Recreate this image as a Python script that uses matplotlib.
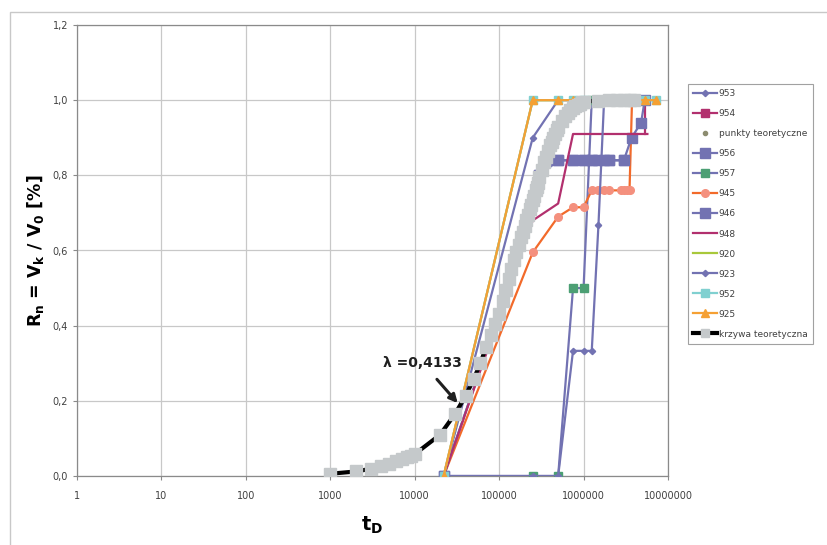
import numpy as np
import matplotlib
matplotlib.use('Agg')
import matplotlib.pyplot as plt
from matplotlib.patches import Rectangle

plt.rcParams['font.family'] = ['DejaVu Sans']

# ---- data ----
t_953 = [22000, 250000, 500000, 750000, 1000000]
r_953 = [0.0, 0.90, 1.0, 1.0, 1.0]

t_954 = [5300000, 5300000]
r_954 = [0.91, 1.0]

t_956 = [22000, 100000, 300000, 500000, 750000, 1000000, 1250000, 1750000, 2000000, 3000000]
r_956 = [0.0, 0.43, 0.80, 0.84, 0.84, 0.84, 0.84, 0.84, 0.84, 0.84]

t_957 = [22000, 250000, 500000, 750000, 1000000, 1250000, 1500000, 2000000]
r_957 = [0.0, 0.0, 0.0, 0.50, 0.50, 1.0, 1.0, 1.0]

t_945 = [22000, 250000, 500000, 750000, 1000000, 1250000, 1500000, 1750000, 2000000,
         2750000, 3000000, 3250000, 3500000, 3750000]
r_945 = [0.0, 0.595, 0.69, 0.715, 0.715, 0.76, 0.76, 0.76, 0.76,
         0.76, 0.76, 0.76, 0.76, 1.0]

t_946 = [22000, 100000, 300000, 500000, 750000, 1000000, 1250000, 1500000, 2000000,
         3000000, 3700000, 4800000, 5300000]
r_946 = [0.0, 0.43, 0.80, 0.84, 0.84, 0.84, 0.84, 0.84, 0.84,
         0.84, 0.90, 0.94, 1.0]

t_948 = [22000, 250000, 500000, 750000, 5700000]
r_948 = [0.0, 0.68, 0.725, 0.91, 0.91]

t_920 = [22000, 250000, 500000]
r_920 = [0.0, 1.0, 1.0]

t_923 = [22000, 250000, 500000, 750000, 1000000, 1250000, 1500000, 1750000, 2000000]
r_923 = [0.0, 0.0, 0.0, 0.333, 0.333, 0.333, 0.667, 1.0, 1.0]

t_952 = [22000, 250000, 500000, 750000, 1000000, 2000000, 3000000, 4000000, 5300000, 7300000]
r_952 = [0.0, 1.0, 1.0, 1.0, 1.0, 1.0, 1.0, 1.0, 1.0, 1.0]

t_925 = [22000, 250000, 500000, 750000, 1000000, 2000000, 3000000, 4000000, 5300000, 7300000]
r_925 = [0.0, 1.0, 1.0, 1.0, 1.0, 1.0, 1.0, 1.0, 1.0, 1.0]

# theoretical curve
t_teor = [1000, 2000, 3000, 4000, 5000, 6000, 7000, 8000, 9000, 10000,
          20000, 30000, 40000, 50000, 60000, 70000, 80000, 90000,
          100000, 110000, 120000, 130000, 140000, 150000, 160000, 170000, 180000, 190000,
          200000, 210000, 220000, 230000, 240000, 250000, 260000, 270000, 280000, 290000,
          300000, 320000, 340000, 360000, 380000, 400000, 420000, 440000, 460000, 480000,
          500000, 550000, 600000, 650000, 700000, 750000, 800000, 850000, 900000, 950000,
          1000000, 1500000, 2000000, 2500000, 3000000, 3500000, 4000000]
r_teor = [0.006, 0.012, 0.019, 0.026, 0.033, 0.039, 0.045, 0.050, 0.054, 0.058,
          0.110, 0.165, 0.213, 0.258, 0.300, 0.343, 0.375, 0.405,
          0.430, 0.465, 0.495, 0.525, 0.550, 0.575, 0.595, 0.615, 0.635, 0.650,
          0.665, 0.680, 0.695, 0.710, 0.720, 0.735, 0.745, 0.760, 0.770, 0.780,
          0.795, 0.815, 0.835, 0.850, 0.865, 0.880, 0.890, 0.900, 0.910, 0.920,
          0.928, 0.945, 0.957, 0.966, 0.973, 0.979, 0.984, 0.988, 0.991, 0.994,
          0.996, 0.999, 1.0, 1.0, 1.0, 1.0, 1.0]

t_pkt = [20000, 30000, 40000, 50000]
r_pkt = [0.110, 0.165, 0.213, 0.258]

xticks = [1, 10, 100, 1000, 10000, 100000, 1000000, 10000000]
xlabels = ['1', '10', '100', '1000', '10000', '100000', '1000000', '10000000']
yticks = [0.0, 0.2, 0.4, 0.6, 0.8, 1.0, 1.2]
ylabels = ['0,0', '0,2', '0,4', '0,6', '0,8', '1,0', '1,2']

blue = '#7272B2'
magenta = '#B2306E'

fig = plt.figure(figsize=(8.27, 5.45), dpi=100)
fig.patches.append(Rectangle((10/827, -0.01), 1.0, 1 - 12/545 + 0.01, transform=fig.transFigure,
                             fill=False, edgecolor='#C8C8C8', linewidth=1.0))
ax = fig.add_axes([77/827, 1 - 476/545, (668 - 77)/827, (476 - 25)/545])

lw = 1.6
ax.plot(t_953, r_953, color=blue, lw=lw, marker='D', ms=3.2, mfc=blue, mec=blue, label='953', zorder=3)
ax.plot(t_954, r_954, color=magenta, lw=lw, marker='s', ms=6, mfc=magenta, mec=magenta,
        markevery=[1], label='954', zorder=3)
ax.plot(t_pkt, r_pkt, ls='', marker='o', ms=3, mfc='#8C8C70', mec='#8C8C70',
        label='punkty teoretyczne', zorder=3)
ax.plot(t_956, r_956, color=blue, lw=lw, marker='s', ms=6.5, mfc=blue, mec=blue, label='956', zorder=3)
ax.plot(t_957, r_957, color=blue, lw=lw, marker='s', ms=6, mfc='#4C9F74', mec='#4C9F74',
        label='957', zorder=3)
ax.plot(t_945, r_945, color='#F26A2A', lw=lw, marker='o', ms=5.5, mfc='#F4907E', mec='#F4907E',
        label='945', zorder=3)
ax.plot(t_946, r_946, color=blue, lw=lw, marker='s', ms=6.5, mfc=blue, mec=blue, label='946', zorder=3)
ax.plot(t_948, r_948, color=magenta, lw=lw, label='948', zorder=3)
ax.plot(t_920, r_920, color='#A8C83A', lw=lw, label='920', zorder=3)
ax.plot(t_923, r_923, color=blue, lw=lw, marker='D', ms=3.2, mfc=blue, mec=blue, label='923', zorder=3)
ax.plot(t_952, r_952, color='#80D0D0', lw=lw, marker='s', ms=6, mfc='#80D0D0', mec='#80D0D0',
        label='952', zorder=3)
ax.plot(t_925, r_925, color='#F5A033', lw=lw, marker='^', ms=6, mfc='#F5A033', mec='#F5A033',
        label='925', zorder=3)
ax.plot(t_teor, r_teor, color='black', lw=3, marker='s', ms=8.5, mfc='#C5C9CB', mec='#C5C9CB',
        label='krzywa teoretyczna', zorder=4)

ax.set_xscale('log')
ax.set_xlim(1, 1e7)
ax.set_ylim(0, 1.2)
ax.set_xticks(xticks)
ax.set_xticklabels(xlabels)
ax.minorticks_off()
ax.set_yticks(yticks)
ax.set_yticklabels(ylabels)
ax.grid(True, color='#C8C8C8', lw=0.9)
ax.set_axisbelow(True)
for s in ax.spines.values():
    s.set_color('#8A8A8A')
    s.set_linewidth(0.9)
ax.tick_params(axis='both', direction='out', length=3, width=0.8, color='#8A8A8A',
               labelsize=7, labelcolor='#404040')
ax.tick_params(axis='x', pad=8)

ax.set_ylabel(r'R$_\mathbf{n}$ = V$_\mathbf{k}$ / V$_\mathbf{0}$ [%]', fontsize=12.5, fontweight='bold',
              labelpad=5)
ax.set_xlabel(r't$_\mathbf{D}$', fontsize=14, fontweight='bold', labelpad=10)

ax.annotate('λ =0,4133', xy=(32300, 0.194), xytext=(12500, 0.30), fontsize=10, fontweight='bold',
            ha='center', va='center', color='#202020',
            arrowprops=dict(arrowstyle='-|>', color='#202020', lw=2.2, mutation_scale=12,
                            shrinkA=6, shrinkB=0), zorder=6)

leg = fig.legend(loc='upper left', bbox_to_anchor=(688/827, 1 - 84/545), fontsize=6.5,
                 frameon=True, fancybox=False, edgecolor='#8A8A8A', labelspacing=1.22,
                 handlelength=2.6, handletextpad=0.2, borderaxespad=0, borderpad=0.6)
leg.get_frame().set_linewidth(0.8)
leg.legend_handles[-1].set_markersize(6)
for txt in leg.get_texts():
    txt.set_color('#404040')

fig.savefig('out.png', dpi=100)
